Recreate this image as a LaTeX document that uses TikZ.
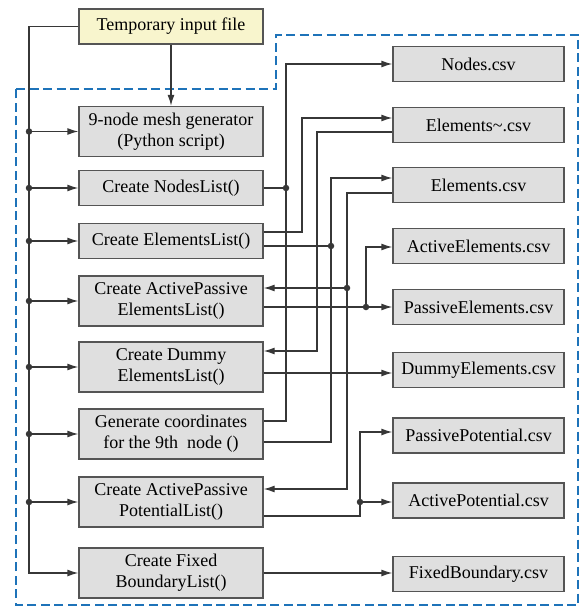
\documentclass[tikz,border=0pt]{standalone}
\usepackage{fontspec}
\setmainfont{Liberation Serif}
\newfontfamily\boxfont{Liberation Serif}
\usetikzlibrary{arrows.meta}
\definecolor{boxgray}{RGB}{223,223,223}
\definecolor{boxline}{RGB}{85,85,85}
\definecolor{tmpyellow}{RGB}{248,245,205}
\definecolor{linegray}{RGB}{55,55,55}
\definecolor{dashblue}{RGB}{30,115,185}
\begin{document}
\begin{tikzpicture}[x=1pt,y=-1pt,
box/.style={draw=boxline,fill=boxgray,line width=1.3pt,align=center,font=\boxfont\fontsize{18}{21}\selectfont,minimum width=184pt,minimum height=35pt,inner sep=0pt},
tall/.style={minimum height=50pt},
csv/.style={box,minimum width=171pt},
ln/.style={draw=linegray,line width=1.3pt},
arr/.style={ln,-{Latex[length=11pt,width=7pt]}},
dot/.style={circle,fill=linegray,inner sep=0pt,minimum size=6.5pt}]
\useasboundingbox (0,0) rectangle (581,607);
\draw[dashblue,line width=1.8pt,dash pattern=on 9pt off 4.5pt](16,89)--(276,89)--(276,35)--(578,35)--(578,605)--(16,605)--cycle;
\node[box,fill=tmpyellow](tmp) at (171,26.5){Temporary input file};
\node[box,tall](mesh) at (171,131.5){9-node mesh generator\\(Python script)};
\node[box](nl) at (171,188){Create NodesList()};
\node[box](el) at (171,241){Create ElementsList()};
\node[box,tall](ape) at (171,301){Create ActivePassive\\ElementsList()};
\node[box,tall](dum) at (171,367){Create Dummy\\ElementsList()};
\node[box,tall](gen) at (171,434){Generate coordinates\\for the 9th~ node ()};
\node[box,tall](app) at (171,502){Create ActivePassive\\PotentialList()};
\node[box,tall](fix) at (171,573){Create Fixed\\BoundaryList()};
\node[csv](ncsv) at (478.5,64){Nodes.csv};
\node[csv](etcsv) at (478.5,125){Elements\textasciitilde.csv};
\node[csv](ecsv) at (478.5,185){Elements.csv};
\node[csv](aecsv) at (478.5,246){ActiveElements.csv};
\node[csv](pecsv) at (478.5,307){PassiveElements.csv};
\node[csv](decsv) at (478.5,370){DummyElements.csv};
\node[csv](ppcsv) at (478.5,435.5){PassivePotential.csv};
\node[csv](apcsv) at (478.5,500.5){ActivePotential.csv};
\node[csv](fbcsv) at (478.5,574){FixedBoundary.csv};
\coordinate(tx) at (29,0);\coordinate(tr) at (29,573);
\draw[arr](tmp.west)-|(tr)--(fix.west);\draw[arr](tmp)--(mesh);
\foreach \b in {mesh,nl,el,ape,dum,gen,app}{\node[dot](t-\b) at (tx|-\b){};\draw[arr](t-\b)--(\b);}
\draw[arr](gen.east|-0,421)-|(286,64)--(ncsv.west);
\node[dot](da) at (286,188){};\draw[ln](nl)--(da);
\draw[arr](el.east|-0,232)-|(302,118)--(etcsv.west|-0,118);
\draw[arr](etcsv.west|-0,132)-|(317,351)--(dum.east|-0,351);
\node[dot](dd) at (331,246){};\draw[ln](el.east|-0,246)--(dd);
\draw[arr](gen.east|-0,442)-|(331,178)--(ecsv.west|-0,178);
\draw[arr](ecsv.west|-0,193)-|(347,489)--(app.east|-0,489);
\node[dot](de) at (347,288){};\draw[arr](de)--(ape.east|-0,288);
\draw[arr](ape.east|-0,307)--(pecsv.west|-0,307);
\node[dot](df) at (366,307){};\draw[arr](df)|-(aecsv.west|-0,247);
\draw[arr](dum.east|-0,373)--(decsv.west|-0,373);
\draw[arr](app.east|-0,516)-|(360,432)--(ppcsv.west|-0,432);
\node[dot](dg) at (360,502){};\draw[arr](dg)--(apcsv.west|-0,502);
\draw[arr](fix.east)--(fbcsv.west|-fix.east);
\end{tikzpicture}
\end{document}
